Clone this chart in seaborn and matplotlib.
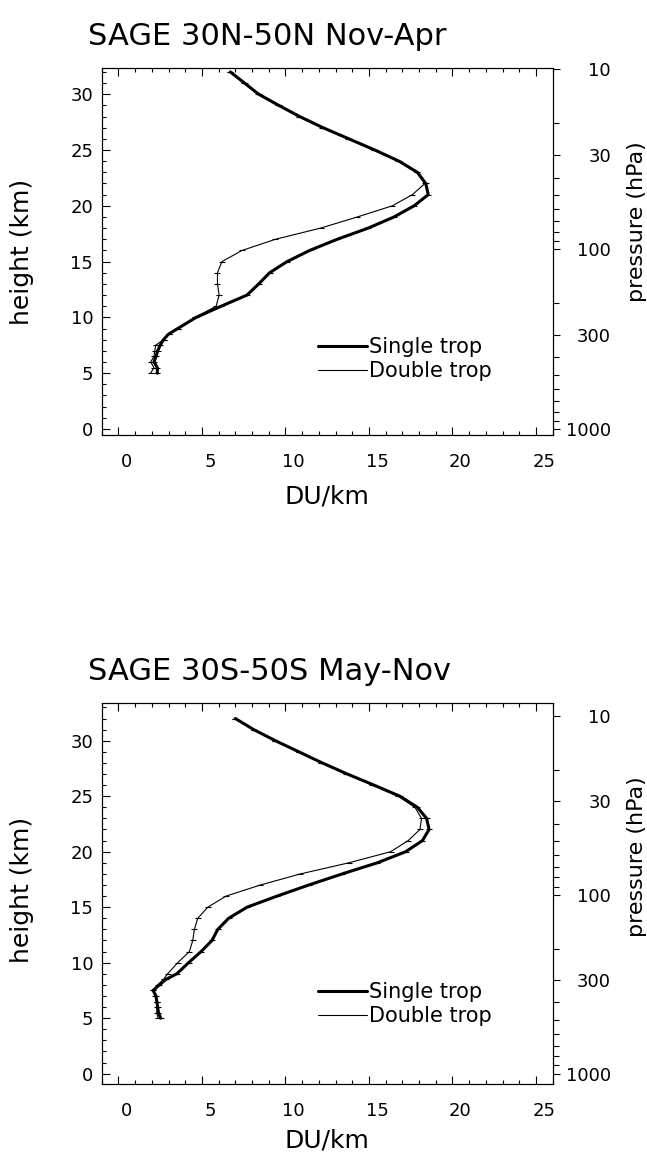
import numpy as np
import pandas as pd
import matplotlib
matplotlib.use("Agg")
import matplotlib.pyplot as plt
import matplotlib.ticker as mticker
import matplotlib.transforms as mtrans
from matplotlib.lines import Line2D
import seaborn as sns

# ── Data ──────────────────────────────────────────────────────────────────
HEIGHT_KM = [5, 5.5, 6, 6.5, 7, 7.5, 8, 8.5, 9] + list(range(10, 33))

NH_SINGLE = [2.33, 2.33, 2.13, 2.25, 2.35, 2.5, 2.7, 3.0, 3.55,
             4.65, 6.15, 7.7, 8.4, 9.05, 10.1, 11.45, 13.1, 14.95, 16.5, 17.7,
             18.55, 18.4, 17.9, 16.8, 15.35, 13.8, 12.25, 10.85, 9.6, 8.4, 7.55, 6.7]
NH_DOUBLE = [1.93, 2.13, 1.93, 2.13, 2.18, 2.23, 2.7, 3.0, 3.55,
             4.6, 5.85, 6.03, 5.93, 5.93, 6.2, 7.4, 9.4, 12.1, 14.3, 16.4,
             17.6, 18.35, 17.85, 16.75, 15.3, 13.75, 12.2, 10.8, 9.55, 8.35, 7.5, 6.7]
SH_SINGLE = [2.53, 2.4, 2.35, 2.3, 2.25, 2.08, 2.45, 2.85, 3.5,
             4.2, 4.95, 5.6, 5.95, 6.6, 7.7, 9.5, 11.4, 13.4, 15.5, 17.2,
             18.2, 18.6, 18.45, 17.9, 16.85, 15.3, 13.7, 12.2, 10.8, 9.4, 8.1, 7.0]
SH_DOUBLE = [2.37, 2.3, 2.3, 2.3, 2.2, 2.05, 2.35, 2.7, 2.95,
             3.55, 4.25, 4.45, 4.55, 4.75, 5.35, 6.45, 8.5, 10.9, 13.8, 16.3,
             17.35, 18.05, 18.15, 17.75, 16.75, 15.2, 13.65, 12.15, 10.8, 9.4, 8.1, 7.0]

TITLES = ["SAGE 30N-50N Nov-Apr", "SAGE 30S-50S May-Nov"]
SERIES = ["Single trop", "Double trop"]
X_TICKS = [0, 5, 10, 15, 20, 25]
Y_TICKS = [0, 5, 10, 15, 20, 25, 30]
P_TICKS = [10, 30, 100, 300, 1000]
P_MINOR = [20, 40, 50, 60, 70, 80, 90, 200, 400, 500, 600, 700, 800, 900]

SCALE_H = 7.0  # km, for the pressure axis
W, H = 647, 1155

sns.set_theme(style="ticks")
plt.rcParams["font.family"] = ["DejaVu Sans"]
plt.rcParams.update({
    "axes.linewidth": 0.8,
    "text.color": "black",
    "axes.labelcolor": "black",
    "xtick.color": "black",
    "ytick.color": "black",
    "axes.edgecolor": "black",
})


def km_to_hpa(z):
    return 1000.0 * np.exp(-z / SCALE_H)


def px(x, y):
    return x / W, 1 - y / H


def draw_panel(fig, top, bottom, ylim, title, single, double, label_y):
    rect = [101.7 / W, 1 - bottom / H, 451 / W, (bottom - top) / H]
    ax = fig.add_axes(rect)
    df = pd.DataFrame({
        "du": single + double,
        "height": HEIGHT_KM + HEIGHT_KM,
        "trop": [SERIES[0]] * len(single) + [SERIES[1]] * len(double),
    })
    sns.lineplot(data=df, x="du", y="height", size="trop",
                 sizes={SERIES[0]: 2.2, SERIES[1]: 0.8}, color="black",
                 orient="y", estimator=None, marker="_", markersize=5,
                 markeredgewidth=0.8, markeredgecolor="black",
                 legend=False, ax=ax)

    ax.set_xlim(-1, 26)
    ax.set_ylim(*ylim)
    ax.set_xlabel("")
    ax.set_ylabel("")
    ax.xaxis.set_major_locator(mticker.FixedLocator(X_TICKS))
    ax.xaxis.set_minor_locator(mticker.MultipleLocator(1))
    ax.yaxis.set_major_locator(mticker.FixedLocator(Y_TICKS))
    ax.yaxis.set_minor_locator(mticker.MultipleLocator(1))
    ax.tick_params(which="both", direction="in", top=True, right=False,
                   width=0.8, color="black", labelsize=13, labelcolor="black")
    ax.tick_params(which="major", length=5.5)
    ax.tick_params(which="minor", length=3)
    ax.tick_params(axis="x", which="major", pad=13)
    ax.tick_params(axis="y", which="major", pad=6)
    shift = mtrans.ScaledTranslation(8 / 100, 0, fig.dpi_scale_trans)
    for lbl in ax.get_xticklabels():
        lbl.set_transform(lbl.get_transform() + shift)

    # pressure axis on the right
    pax = ax.twinx()
    pax.set_yscale("log")
    pax.set_ylim(km_to_hpa(ylim[0]), km_to_hpa(ylim[1]))
    pax.set_yticks(P_TICKS, labels=[str(p) for p in P_TICKS], ha="right")
    pax.yaxis.set_minor_locator(mticker.FixedLocator(P_MINOR))
    pax.yaxis.set_minor_formatter(mticker.NullFormatter())
    pax.tick_params(which="both", direction="out", width=0.8, color="black",
                    labelsize=13, labelcolor="black")
    pax.tick_params(which="major", length=5, pad=37)
    pax.tick_params(which="minor", length=4)
    pax.grid(False)

    handles = [Line2D([], [], color="black", lw=2.2), Line2D([], [], color="black", lw=0.8)]
    ax.legend(handles, SERIES, loc="center left",
              bbox_to_anchor=(0.48, (bottom - label_y["legend"]) / (bottom - top)),
              frameon=False, fontsize=15, handlelength=2.35, handletextpad=0.1,
              borderpad=0, borderaxespad=0, labelspacing=0.2)

    fig.text(*px(88, label_y["title"]), title, ha="left", va="center", fontsize=22)
    fig.text(*px(22, label_y["height"]), "height (km)", rotation=90,
             ha="center", va="center", fontsize=18)
    fig.text(*px(637, label_y["pressure"]), "pressure (hPa)", rotation=90,
             ha="center", va="center", fontsize=16)
    fig.text(*px(326.7, label_y["du"]), "DU/km", ha="center", va="center", fontsize=18)
    return ax


fig = plt.figure(figsize=(W / 100, H / 100), dpi=100)
draw_panel(fig, 68, 435, (-0.54, 32.35), TITLES[0], NH_SINGLE, NH_DOUBLE,
           {"title": 36.7, "height": 252, "pressure": 221.5, "du": 497, "legend": 359})
draw_panel(fig, 703.3, 1084, (-0.93, 33.37), TITLES[1], SH_SINGLE, SH_DOUBLE,
           {"title": 671.7, "height": 890, "pressure": 856.5, "du": 1140, "legend": 1004})
fig.savefig("out.png", dpi=100)
